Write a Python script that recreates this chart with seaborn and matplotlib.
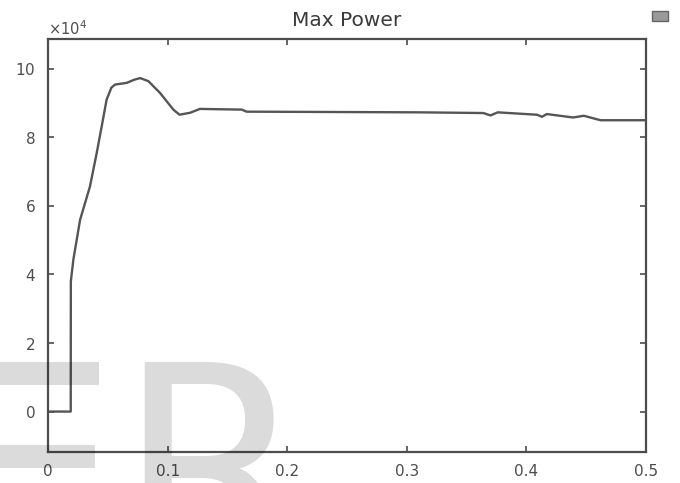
import numpy as np
import pandas as pd
import matplotlib
matplotlib.use("Agg")
import matplotlib.pyplot as plt
from matplotlib.patches import Rectangle
from matplotlib.ticker import ScalarFormatter
import seaborn as sns

# Simulated maximum power trace (time in s, power in W)
time_s = [0.0, 0.0190, 0.0191, 0.0212, 0.0268, 0.0351, 0.0407, 0.0449, 0.0490,
          0.0530, 0.0560, 0.0658, 0.0720, 0.0770, 0.0839, 0.0936, 0.1048,
          0.1100, 0.1130, 0.1190, 0.1270, 0.1620, 0.1660, 0.3110, 0.3640,
          0.3700, 0.3760, 0.4090, 0.4130, 0.4170, 0.4390, 0.4480, 0.4620, 0.5000]
power_w = [0, 0, 38000, 44300, 55900, 65700, 75400, 83200, 91000,
           94500, 95400, 95900, 96800, 97300, 96400, 93000, 88100,
           86600, 86800, 87200, 88300, 88100, 87500, 87300, 87100,
           86400, 87300, 86600, 86000, 86800, 85800, 86300, 85000, 85000]

x_ticks = [0, 0.1, 0.2, 0.3, 0.4, 0.5]
x_tick_labels = ["0", "0.1", "0.2", "0.3", "0.4", "0.5"]
y_ticks = [0, 20000, 40000, 60000, 80000, 100000]

df = pd.DataFrame({"t": time_s, "P": power_w})

sns.set_theme(style="white")
plt.rcParams["font.family"] = ["DejaVu Sans"]

ink = "#4d4d4d"
fig = plt.figure(figsize=(6.8, 4.83), dpi=100)
ax = fig.add_axes([48 / 680, 1 - 452 / 483, 598 / 680, 413 / 483])

sns.lineplot(data=df, x="t", y="P", ax=ax, color="#555555", linewidth=1.7,
             estimator=None, sort=False)

ax.set_xlim(0, 0.5)
ax.set_ylim(-11800, 108700)
ax.set_xticks(x_ticks)
ax.set_xticklabels(x_tick_labels)
ax.set_yticks(y_ticks)
fmt = ScalarFormatter(useMathText=True)
fmt.set_powerlimits((4, 4))
ax.yaxis.set_major_formatter(fmt)
ax.yaxis.get_offset_text().set_fontsize(10.5)
ax.yaxis.get_offset_text().set_color(ink)

ax.set_xlabel("")
ax.set_ylabel("")
ax.set_title("Max Power", fontsize=14.5, color="#3a3a3a", pad=9)

for s in ax.spines.values():
    s.set_visible(True)
    s.set_color(ink)
    s.set_linewidth(1.6)

ax.tick_params(axis="both", which="major", direction="in", length=4, width=1.2,
               color=ink, labelcolor=ink, labelsize=11,
               top=True, right=True, bottom=True, left=True, pad=9)

# Small figure icon in the top-right corner
fig.patches.append(Rectangle((652 / 680, 1 - 21 / 483), 16 / 680, 10 / 483,
                             transform=fig.transFigure, facecolor="#9a9a9a",
                             edgecolor="#666666", linewidth=1))

# Publisher watermark
fig.text(-55 / 680, -80 / 483, "ER", fontsize=197, color="black", alpha=0.14,
         ha="left", va="baseline", family="DejaVu Sans", zorder=10)

fig.savefig("out.png", dpi=100)
